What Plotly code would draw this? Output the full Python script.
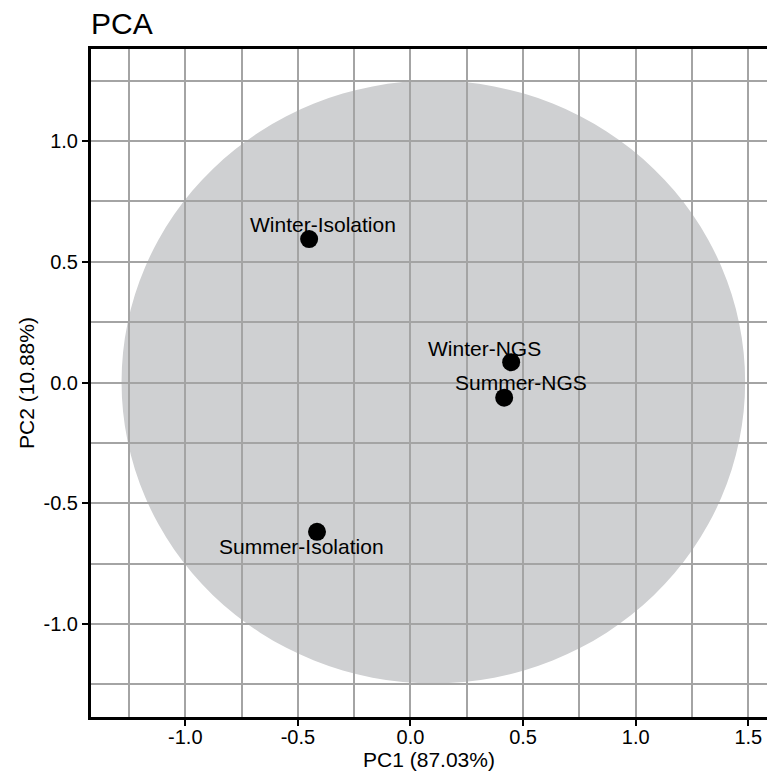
import plotly.graph_objects as go

# Data
samples = ["Winter-Isolation", "Summer-Isolation", "Winter-NGS", "Summer-NGS"]
pc1 = [-0.450, -0.415, 0.447, 0.416]
pc2 = [0.594, -0.618, 0.084, -0.063]
label_dx = [14, -16, -27, 17]
label_dy = [-15, 15, -14, -15]

ellipse_x = [-1.283, 1.486]
ellipse_y = [-1.246, 1.250]

x_range = [-1.4186, 1.583]
y_range = [-1.385, 1.381]

x_tickvals = [-1.0, -0.5, 0.0, 0.5, 1.0, 1.5]
x_ticktext = ["-1.0", "-0.5", "0.0", "0.5", "1.0", "1.5"]
y_tickvals = [-1.0, -0.5, 0.0, 0.5, 1.0]
y_ticktext = ["-1.0", "-0.5", "0.0", "0.5", "1.0"]

FONT = "Liberation Sans, Arial, Helvetica, sans-serif"
GRID = "#a4a4a4"

fig = go.Figure()
fig.add_trace(go.Scatter(
    x=pc1, y=pc2, mode="markers",
    marker=dict(size=18, color="black"),
    hoverinfo="text", text=samples, showlegend=False,
))

fig.add_shape(type="circle", xref="x", yref="y",
              x0=ellipse_x[0], x1=ellipse_x[1], y0=ellipse_y[0], y1=ellipse_y[1],
              fillcolor="#cfd0d2", line=dict(width=0), layer="below")

for s, x, y, dx, dy in zip(samples, pc1, pc2, label_dx, label_dy):
    fig.add_annotation(x=x, y=y, text=s, showarrow=False,
                       xshift=dx, yshift=-dy,
                       font=dict(family=FONT, size=21, color="black"))

axis_common = dict(
    showgrid=True, gridcolor=GRID, gridwidth=2,
    minor=dict(dtick=0.25, tick0=0, showgrid=True, gridcolor=GRID, gridwidth=2, ticks=""),
    zeroline=False,
    showline=True, linecolor="black", linewidth=3,
    ticks="outside", ticklen=6, tickwidth=2, tickcolor="black",
    tickfont=dict(family=FONT, size=20, color="black"),
    tickmode="array", automargin=False,
)

fig.update_xaxes(range=x_range, mirror=True,
                 tickvals=x_tickvals, ticktext=x_ticktext, ticklabelstandoff=-6,
                 title=dict(text="PC1 (87.03%)", font=dict(family=FONT, size=21, color="black"), standoff=0),
                 **axis_common)
fig.update_yaxes(range=y_range, mirror=False,
                 tickvals=y_tickvals, ticktext=y_ticktext,
                 title=dict(text="PC2 (10.88%)", font=dict(family=FONT, size=21, color="black"), standoff=4),
                 **axis_common)

fig.update_layout(
    width=767, height=772,
    margin=dict(l=91, r=0, t=49, b=55, autoexpand=False),
    paper_bgcolor="white", plot_bgcolor="white",
    title=dict(text="PCA", font=dict(family=FONT, size=30, color="black"),
               xref="paper", x=0, xanchor="left", yref="container", y=1 - 23 / 772, yanchor="middle"),
    font=dict(family=FONT, color="black"),
)

fig.write_html("out.html", config={"displayModeBar": False},
               post_script="document.body.style.margin='0';document.body.style.overflow='hidden';")
